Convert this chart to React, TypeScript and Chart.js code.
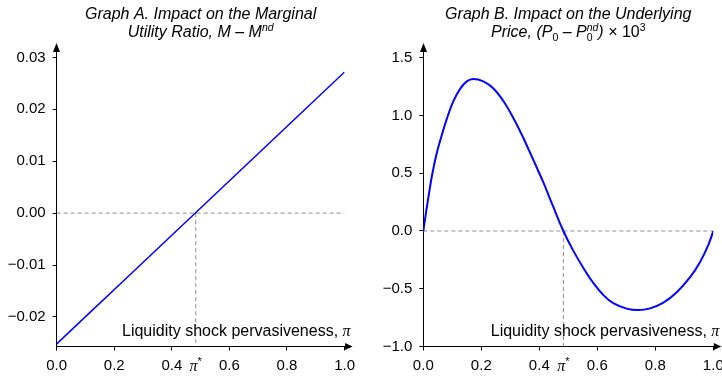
import React, { useEffect, useRef } from "react";
import { Chart, registerables } from "chart.js";

Chart.register(...registerables);

// ---------- data ----------
const xTickValues = [0, 0.2, 0.4, 0.6, 0.8, 1.0];
const piStar = 0.483;

// Graph A: marginal utility ratio impact
const piA = [0, 0.25, 0.5, 0.75, 1.0];
const mA = [-0.0252, -0.0121, 0.001, 0.0141, 0.0272];
const yTicksA = [-0.02, -0.01, 0, 0.01, 0.02, 0.03];
const yMinA = -0.0257;
const yMaxA = 0.0324;

// Graph B: underlying price impact (x 10^3)
const piB = [0, 0.01, 0.02, 0.03, 0.045, 0.058, 0.081, 0.103, 0.127, 0.15, 0.172, 0.207, 0.241, 0.276, 0.31, 0.345, 0.379, 0.414, 0.448, 0.483, 0.517, 0.552, 0.586, 0.621, 0.655, 0.701, 0.741, 0.782, 0.828, 0.874, 0.92, 0.954, 0.983, 1.0];
const pB = [0, 0.17, 0.33, 0.48, 0.66, 0.78, 0.97, 1.12, 1.23, 1.295, 1.315, 1.295, 1.235, 1.125, 0.98, 0.805, 0.617, 0.42, 0.21, 0, -0.17, -0.32, -0.45, -0.555, -0.625, -0.672, -0.685, -0.67, -0.62, -0.53, -0.4, -0.27, -0.12, 0];
const yTicksB = [-1.0, -0.5, 0, 0.5, 1.0, 1.5];
const yMinB = -1.0;
const yMaxB = 1.61;

const axisLabelText = "Liquidity shock pervasiveness, ";

// ---------- styling ----------
const SANS = '"Liberation Sans", Arial, Helvetica, sans-serif';
const SERIF = '"Liberation Serif", "Times New Roman", serif';

type Seg = { t: string; italic?: boolean; size?: number; dy?: number; serif?: boolean; noAdv?: boolean };

function fontOf(s: Seg, base: number) {
  return `${s.italic ? "italic " : ""}${s.size ?? base}px ${s.serif ? SERIF : SANS}`;
}

function drawRich(ctx: CanvasRenderingContext2D, segs: Seg[], x: number, y: number, align: "center" | "right", base: number) {
  let total = 0;
  for (const s of segs) {
    ctx.font = fontOf(s, base);
    if (!s.noAdv) total += ctx.measureText(s.t).width;
  }
  let cx = align === "center" ? x - total / 2 : x - total;
  ctx.textAlign = "left";
  ctx.textBaseline = "alphabetic";
  for (const s of segs) {
    ctx.font = fontOf(s, base);
    ctx.fillText(s.t, cx, y + (s.dy ?? 0));
    if (!s.noAdv) cx += ctx.measureText(s.t).width;
  }
}

const titleA: Seg[][] = [
  [{ t: "Graph A. Impact on the Marginal", italic: true }],
  [{ t: "Utility Ratio, M \u2013 M", italic: true }, { t: "nd", italic: true, size: 10.5, dy: -6 }],
];
const titleB: Seg[][] = [
  [{ t: "Graph B. Impact on the Underlying", italic: true }],
  [
    { t: "Price, (P", italic: true },
    { t: "0", size: 10.5, dy: 4 },
    { t: " \u2013 P", italic: true },
    { t: "0", size: 10.5, dy: 4, noAdv: true },
    { t: "nd", italic: true, size: 10.5, dy: -6 },
    { t: ")", italic: true },
    { t: " \u00d7 10" },
    { t: "3", size: 10.5, dy: -6 },
  ],
];

type Spec = {
  xs: number[];
  ys: number[];
  yTicks: number[];
  yMin: number;
  yMax: number;
  dec: number;
  yWidth: number;
  padRight: number;
  lineWidth: number;
  title: Seg[][];
};

const specA: Spec = { xs: piA, ys: mA, yTicks: yTicksA, yMin: yMinA, yMax: yMaxA, dec: 2, yWidth: 56.7, padRight: 15, lineWidth: 1.5, title: titleA };
const specB: Spec = { xs: piB, ys: pB, yTicks: yTicksB, yMin: yMinB, yMax: yMaxB, dec: 1, yWidth: 62.3, padRight: 27.7, lineWidth: 2, title: titleB };

function fmt(v: number, d: number) {
  const s = Math.abs(v).toFixed(d);
  return v < -1e-9 ? "\u2212" + s : s;
}

function makeDecor(spec: Spec) {
  return {
    id: "decor",
    afterDraw(chart: any) {
      const { ctx, chartArea: a, scales } = chart;
      ctx.save();
      ctx.fillStyle = "#000";
      ctx.strokeStyle = "#000";
      ctx.lineWidth = 1;
      const ax = Math.round(a.left - 0.5) + 0.5;
      const ay = Math.round(a.bottom - 0.5) + 0.5;
      // y-axis arrow
      ctx.beginPath();
      ctx.moveTo(ax, 43);
      ctx.lineTo(ax - 3.5, 52);
      ctx.lineTo(ax + 3.5, 52);
      ctx.closePath();
      ctx.fill();
      // x-axis arrow
      ctx.beginPath();
      ctx.moveTo(a.right, ay);
      ctx.lineTo(a.right + 4, ay);
      ctx.stroke();
      ctx.beginPath();
      ctx.moveTo(a.right + 8, ay);
      ctx.lineTo(a.right + 0.5, ay - 3.5);
      ctx.lineTo(a.right + 0.5, ay + 3.5);
      ctx.closePath();
      ctx.fill();
      // titles
      const cx = (a.left + a.right) / 2;
      drawRich(ctx, spec.title[0], cx, 18.7, "center", 16);
      drawRich(ctx, spec.title[1], cx, 37, "center", 16);
      // axis label
      drawRich(ctx, [{ t: axisLabelText }, { t: "\u03c0", italic: true, serif: true }], a.right + 6, a.bottom - 11, "right", 16);
      // pi* tick label
      const px = scales.x.getPixelForValue(piStar);
      drawRich(ctx, [{ t: "\u03c0", italic: true, serif: true, size: 16 }, { t: "*", size: 11, dy: -6 }], px, 371, "center", 16);
      ctx.restore();
    },
  };
}

function buildConfig(spec: Spec): any {
  const tickFont = { family: SANS, size: 15 };
  const grid = { drawOnChartArea: false, drawTicks: true, tickLength: 4, color: "#000", lineWidth: 1 };
  const border = { display: true, color: "#000", width: 1 };
  return {
    type: "line",
    data: {
      datasets: [
        {
          data: spec.xs.map((x, i) => ({ x, y: spec.ys[i] })),
          borderColor: "#0000ff",
          borderWidth: spec.lineWidth,
          pointRadius: 0,
          tension: 0.4,
          fill: false,
        },
        {
          data: [{ x: 0, y: 0 }, { x: 1, y: 0 }],
          borderColor: "#8c8c8c",
          borderWidth: 1,
          borderDash: [4, 3],
          pointRadius: 0,
          fill: false,
        },
        {
          data: [{ x: piStar, y: 0 }, { x: piStar, y: spec.yMin }],
          borderColor: "#8c8c8c",
          borderWidth: 1,
          borderDash: [4, 3],
          pointRadius: 0,
          fill: false,
        },
      ],
    },
    options: {
      responsive: false,
      animation: false,
      events: [],
      layout: { padding: { top: 45, left: 0, right: spec.padRight, bottom: 0 } },
      plugins: { legend: { display: false }, tooltip: { enabled: false }, title: { display: false } },
      scales: {
        x: {
          type: "linear",
          min: 0,
          max: 1,
          afterBuildTicks: (s: any) => {
            s.ticks = xTickValues.map((v) => ({ value: v }));
          },
          afterFit: (s: any) => {
            s.height = 29.5;
          },
          ticks: { color: "#000", font: tickFont, padding: 6, autoSkip: false, maxRotation: 0, callback: (v: any) => fmt(Number(v), 1) },
          grid,
          border,
        },
        y: {
          type: "linear",
          min: spec.yMin,
          max: spec.yMax,
          afterBuildTicks: (s: any) => {
            s.ticks = spec.yTicks.map((v) => ({ value: v }));
          },
          afterFit: (s: any) => {
            s.width = spec.yWidth;
          },
          ticks: { color: "#000", font: tickFont, padding: 7, autoSkip: false, callback: (v: any) => fmt(Number(v), spec.dec) },
          grid,
          border,
        },
      },
    },
    plugins: [makeDecor(spec)],
  };
}

function Panel({ spec, left, width }: { spec: Spec; left: number; width: number }) {
  const ref = useRef<HTMLCanvasElement | null>(null);
  useEffect(() => {
    if (!ref.current) return;
    const chart = new Chart(ref.current, buildConfig(spec));
    return () => chart.destroy();
  }, [spec]);
  return (
    <div style={{ position: "absolute", left, top: 0, width, height: 376 }}>
      <canvas ref={ref} width={width} height={376} style={{ display: "block", width, height: 376 }} />
    </div>
  );
}

export default function App() {
  return (
    <div style={{ position: "absolute", left: 0, top: 0, width: 722, height: 376, overflow: "hidden", background: "#fff" }}>
      <Panel spec={specA} left={0} width={361} />
      <Panel spec={specB} left={361} width={380} />
    </div>
  );
}
